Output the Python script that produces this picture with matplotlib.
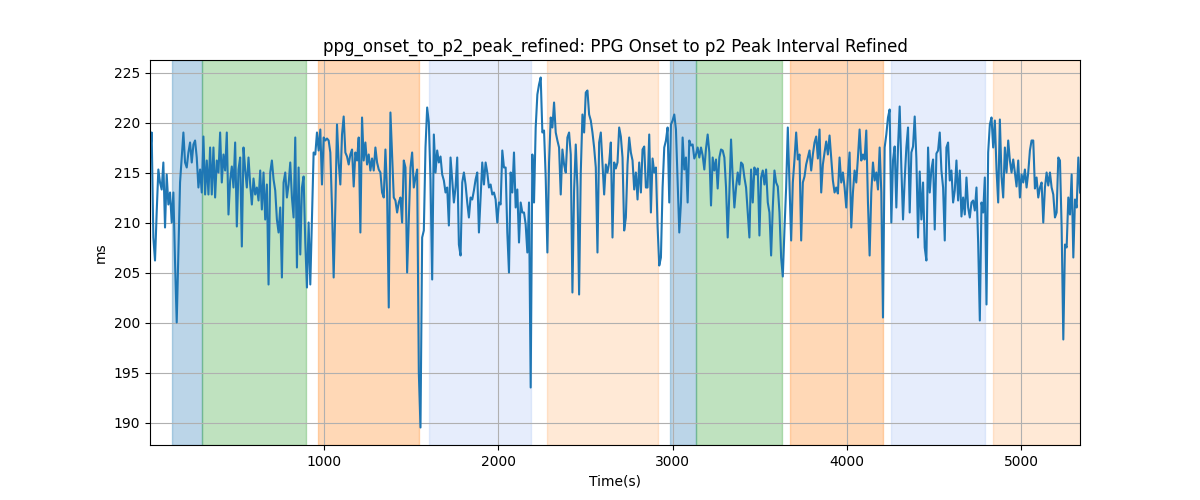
import numpy as np
from matplotlib import pyplot as plt

# samples are evenly spaced, starting a few seconds into the recording
START_S = 5.0
SAMPLE_PERIOD_S = 9.57

interval_ms = [
    # 0 - 680 s
    216.5, 219.0, 208.5, 206.2, 211.0, 215.3, 214.0, 213.3, 216.0, 209.5,
    214.8, 211.8, 213.0, 210.0, 213.0, 206.0, 200.0, 207.0, 214.0, 216.5,
    219.0, 216.0, 215.5, 217.0, 218.0, 216.0, 217.8, 218.2, 216.5, 213.5,
    215.3, 213.0, 218.6, 212.8, 216.2, 212.8, 217.5, 212.8, 217.5, 212.5,
    216.2, 215.0, 219.0, 214.0, 216.8, 215.2, 219.0, 210.8, 214.2, 215.6,
    213.5, 218.0, 209.6, 215.3, 216.5, 207.6, 217.5, 215.3, 213.5, 216.5,
    213.8, 211.8, 214.4, 212.8, 213.5, 212.2, 215.2, 211.3, 215.0, 210.3,
    # 680 - 1350 s
    213.8, 203.8, 215.0, 216.2, 214.3, 213.2, 210.3, 209.0, 211.5, 204.5,
    214.0, 215.0, 212.5, 213.8, 216.0, 212.5, 210.5, 218.5, 205.5, 215.5,
    206.8, 213.5, 214.6, 208.0, 203.5, 210.0, 203.8, 210.5, 217.0, 216.8,
    219.0, 217.2, 219.3, 213.8, 218.5, 218.2, 218.4, 218.2, 217.0, 211.5,
    204.5, 211.5, 219.8, 216.0, 213.8, 218.8, 220.6, 217.0, 216.6, 215.8,
    216.8, 217.3, 213.6, 217.0, 216.2, 218.5, 209.0, 220.5, 216.2, 218.0,
    215.8, 216.8, 215.2, 216.4, 215.2, 217.5, 216.0, 215.3, 215.0, 213.0,
    212.5,
    # 1350 - 2010 s
    217.3, 213.0, 201.5, 221.0, 216.8, 212.5, 212.2, 211.0, 212.0, 212.5,
    210.0, 216.2, 215.5, 205.0, 210.2, 215.5, 217.0, 213.5, 214.5, 215.3,
    195.0, 189.5, 208.5, 209.2, 217.5, 221.5, 220.0, 214.3, 204.3, 218.8,
    215.0, 217.2, 216.0, 216.6, 214.8, 214.2, 213.0, 213.5, 209.7, 216.5,
    214.2, 212.0, 213.5, 216.5, 207.8, 206.7, 214.0, 215.0, 213.8, 212.0,
    210.5, 212.5, 212.3, 213.2, 214.3, 215.0, 209.0, 212.5, 216.0, 213.8,
    216.0, 215.0, 213.5, 213.8, 212.8, 213.0, 212.3, 210.0, 212.0,
    # 2010 - 2670 s
    211.8, 217.2, 215.5, 215.5, 209.0, 205.0, 215.0, 213.0, 217.0, 211.5,
    213.3, 208.0, 212.0, 211.0, 211.0, 209.8, 207.0, 212.0, 193.5, 216.8,
    212.0, 219.5, 222.8, 223.8, 224.5, 219.0, 219.2, 214.5, 207.0, 216.0,
    220.5, 219.5, 222.0, 219.0, 218.2, 217.5, 212.8, 217.3, 215.8, 215.0,
    218.5, 219.0, 216.8, 203.0, 213.2, 217.8, 213.5, 202.8, 215.0, 220.8,
    219.0, 223.0, 223.2, 220.8, 220.2, 219.0, 217.5, 215.5, 207.0, 218.0,
    219.0, 215.8, 212.8, 215.8, 215.0, 216.0, 218.0, 208.5, 216.0,
    # 2670 - 3330 s
    215.4, 216.0, 219.5, 218.6, 216.5, 209.2, 210.5, 215.8, 218.5, 217.0,
    216.2, 213.3, 215.0, 212.3, 216.0, 213.0, 217.3, 217.6, 213.5, 213.5,
    218.8, 211.0, 216.4, 215.0, 215.5, 209.6, 205.7, 206.5, 213.5, 217.5,
    218.2, 219.5, 212.0, 219.8, 220.2, 220.8, 219.3, 214.0, 209.0, 212.0,
    218.5, 215.3, 216.5, 212.0, 218.2, 217.7, 217.8, 216.4, 216.8, 217.5,
    216.5, 217.5, 216.7, 215.3, 217.4, 218.8, 217.0, 211.7, 216.5, 215.2,
    216.3, 213.4, 216.5, 217.3, 217.2, 216.5, 213.5, 208.5, 213.0,
    # 3330 - 3990 s
    218.3, 214.5, 211.5, 213.5, 215.0, 213.8, 216.0, 215.8, 214.5, 213.5,
    211.0, 208.5, 215.3, 212.0, 215.5, 214.8, 215.4, 208.7, 214.5, 215.2,
    213.8, 215.3, 212.0, 211.0, 206.7, 211.5, 215.2, 214.0, 213.6, 211.0,
    206.5, 204.6, 209.3, 213.5, 219.5, 214.0, 208.2, 214.0, 216.3, 219.0,
    216.3, 216.8, 208.2, 214.0, 214.6, 215.8, 216.5, 217.2, 215.2, 216.8,
    218.0, 218.6, 216.4, 219.3, 213.0, 215.8, 217.0, 218.1, 216.8, 218.7,
    216.5, 214.2, 213.0, 213.5, 212.9, 216.5, 214.0, 215.0, 213.5,
    # 3990 - 4650 s
    211.5, 214.7, 217.0, 209.5, 213.0, 215.2, 214.0, 216.5, 219.3, 216.2,
    216.8, 216.3, 219.2, 212.0, 206.7, 213.0, 216.0, 214.2, 215.0, 213.3,
    217.5, 213.0, 200.5, 217.5, 218.8, 220.5, 221.3, 210.0, 216.2, 217.6,
    211.5, 217.5, 221.6, 215.5, 210.3, 214.3, 217.5, 219.5, 211.0, 217.0,
    217.6, 220.6, 216.4, 208.5, 215.1, 210.3, 214.0, 207.5, 206.2, 217.5,
    213.0, 215.3, 216.3, 209.3, 216.9, 217.2, 219.0, 215.2, 213.5, 208.2,
    217.5, 218.0, 214.2, 215.2, 212.0, 213.2, 216.2, 212.2, 215.2,
    # 4650 - 5345 s
    210.6, 212.5, 210.8, 214.5, 211.5, 210.5, 212.0, 212.2, 211.2, 213.5,
    208.0, 200.2, 212.0, 211.0, 214.5, 201.8, 217.0, 219.8, 220.5, 217.5,
    220.2, 215.3, 212.0, 220.3, 214.6, 212.5, 217.5, 215.0, 218.2, 216.2,
    215.0, 216.3, 215.0, 213.6, 216.2, 212.5, 214.8, 214.0, 215.3, 213.5,
    215.0, 217.2, 218.2, 218.2, 213.4, 214.5, 212.5, 213.5, 214.0, 210.0,
    213.5, 215.0, 213.7, 215.0, 213.5, 212.8, 210.5, 211.0, 216.5, 216.2,
    209.5, 198.3, 207.8, 207.5, 212.5, 210.8, 214.8, 206.5, 212.3, 211.5,
    216.5, 213.0,
]

# shaded phases: start (s), end (s), colour, alpha
phase_starts = [132, 305, 967, 1605, 2282, 2985, 3132, 3672, 4253, 4839]
phase_ends = [305, 900, 1546, 2188, 2914, 3132, 3630, 4205, 4793, 5350]
phase_colors = ["C0", "C2", "C1", "cornflowerblue", "C1",
                "C0", "C2", "C1", "cornflowerblue", "C1"]
phase_alphas = [0.3, 0.3, 0.3, 0.16, 0.17, 0.3, 0.3, 0.3, 0.16, 0.17]


def plot_interval():
    values = np.array(interval_ms)
    time_s = START_S + SAMPLE_PERIOD_S * np.arange(len(values))

    fig, ax = plt.subplots(1, figsize=(12, 5), dpi=100)
    for start, end, color, alpha in zip(phase_starts, phase_ends, phase_colors, phase_alphas):
        ax.axvspan(start, end, color=color, alpha=alpha)

    ax.plot(time_s, values, color="C0", linewidth=1.5)
    ax.set_xlim(time_s[0], time_s[-1])
    ax.grid(True)
    ax.set_xlabel("Time(s)")
    ax.set_ylabel("ms")
    ax.set_title("ppg_onset_to_p2_peak_refined: PPG Onset to p2 Peak Interval Refined")
    fig.savefig("out.png", dpi=100)


if __name__ == "__main__":
    plot_interval()
